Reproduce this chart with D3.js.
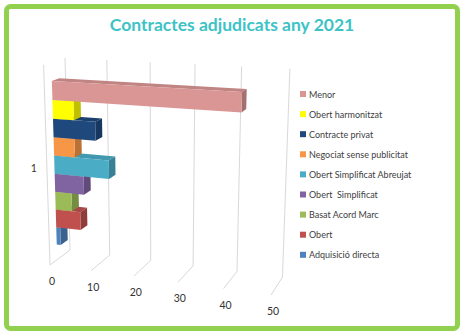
<!DOCTYPE html>
<html>
<head>
<meta charset="utf-8">
<script src="https://cdn.jsdelivr.net/npm/d3@7"></script>
<style>
  body { margin: 0; background: #fff; }
  text { font-family: Lato, "Open Sans", sans-serif; }
</style>
</head>
<body>
<script>
// data (series listed bottom bar first, as in the chart)
const categories = ["1"];
const series = ["Adquisició directa", "Obert", "Basat Acord Marc", "Obert  Simplificat",
    "Obert Simplificat Abreujat", "Negociat sense publicitat", "Contracte privat",
    "Obert harmonitzat", "Menor"];
const values = [1, 6, 4, 7, 13, 5, 10, 5, 42];
const colors = ["#4F81BD", "#C0504D", "#9BBB59", "#8064A2", "#4BACC6", "#F79646",
    "#1F497D", "#FFFF00", "#D99694"];
const tickValues = [0, 10, 20, 30, 40, 50];

const W = 466, H = 335;

const svg = d3.select("body").append("svg")
    .attr("width", W)
    .attr("height", H);

// green frame
svg.append("rect")
    .attr("x", 6.5).attr("y", 6.5)
    .attr("width", 451).attr("height", 322)
    .attr("rx", 4)
    .attr("fill", "#fff")
    .attr("stroke", "#92D050")
    .attr("stroke-width", 5);

svg.append("text")
    .attr("x", 232).attr("y", 31)
    .attr("text-anchor", "middle")
    .attr("font-size", "17.5px")
    .attr("font-weight", "bold")
    .attr("fill", "#3DC3C6")
    .text("Contractes adjudicats any 2021");

// value -> u (0..1), series -> height band, depth 0 = front, 1 = back
const xScale = d3.scaleLinear().domain([0, 50]).range([0, 1]);
const hScale = d3.scaleBand().domain(series).range([0.08, 0.91]).padding(0);
const dFront = 0.35, dBack = 0.7;

// perspective projection of the 3d plot box
function project(u, h, d) {
    const w = 1 - 0.085 * u - 0.055 * h + 0.045 * d;
    return [(50 + 198 * u - 8.8 * h + 23.15 * d) / w,
            (265 + 4.9 * u - 203.83 * h - 3.75 * d) / w];
}
const line = d3.line();

const grid = svg.append("g")
    .attr("stroke", "#D9D9D9")
    .attr("fill", "none")
    .attr("stroke-width", 1);

tickValues.forEach((t) => {
    const u = xScale(t);
    grid.append("path").attr("d", line([project(u, 1, 1), project(u, 0, 1), project(u, 0, 0)]));
});
// side wall front edge
grid.append("path").attr("d", line([project(0, 1, 0), project(0, 0, 0)]));

// tick labels
svg.append("g").selectAll("text")
    .data(tickValues)
    .join("text")
    .attr("x", (t) => project(xScale(t), 0, 0)[0] + 2)
    .attr("y", (t) => project(xScale(t), 0, 0)[1] + 20)
    .attr("text-anchor", "middle")
    .attr("font-size", "10.5px")
    .attr("fill", "#333")
    .text((t) => t);

// category label
const mid = project(0, 0.5, 0);
svg.append("text")
    .attr("x", mid[0] - 10).attr("y", mid[1] + 4)
    .attr("text-anchor", "end")
    .attr("font-size", "10.5px")
    .attr("fill", "#333")
    .text(categories[0]);

// bars, bottom first so upper bars cover the tops below
const bars = svg.append("g");
series.forEach((s, i) => {
    const u0 = xScale(0), u1 = xScale(values[i]);
    const h0 = hScale(s), h1 = h0 + hScale.bandwidth();
    const c = d3.color(colors[i]);
    const top = [project(u0, h1, dFront), project(u1, h1, dFront), project(u1, h1, dBack), project(u0, h1, dBack)];
    const side = [project(u1, h0, dFront), project(u1, h1, dFront), project(u1, h1, dBack), project(u1, h0, dBack)];
    const front = [project(u0, h0, dFront), project(u1, h0, dFront), project(u1, h1, dFront), project(u0, h1, dFront)];
    bars.append("path").attr("d", line(top) + "Z").attr("fill", c.darker(0.35));
    bars.append("path").attr("d", line(side) + "Z").attr("fill", c.darker(0.8));
    bars.append("path").attr("d", line(front) + "Z").attr("fill", c);
});

// legend, top entry = last series
const legend = svg.append("g")
    .selectAll("g")
    .data(series.slice().reverse())
    .join("g")
    .attr("transform", (d, i) => "translate(300," + (94 + i * 20.1) + ")");

legend.append("rect")
    .attr("x", 0).attr("y", -3)
    .attr("width", 6).attr("height", 6)
    .attr("fill", (d) => colors[series.indexOf(d)]);

legend.append("text")
    .attr("x", 9).attr("y", 3.5)
    .attr("font-size", "9px")
    .attr("fill", "#404040")
    .style("white-space", "pre")
    .text((d) => d);
</script>
</body>
</html>
